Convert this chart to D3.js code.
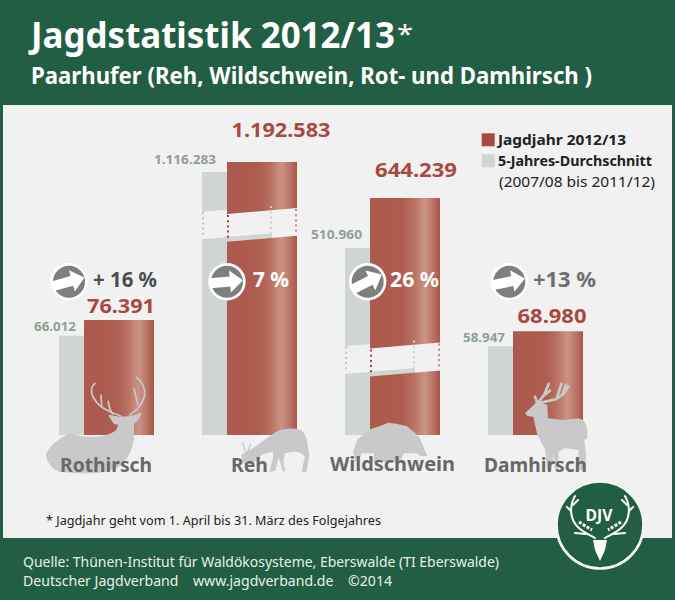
<!DOCTYPE html>
<html><head><meta charset="utf-8">
<script src="https://cdn.jsdelivr.net/npm/d3@7"></script>
<style>html,body{margin:0;padding:0;background:#225e43}svg{display:block}text{font-family:"Noto Sans",sans-serif}</style>
</head><body><svg id="c" width="675" height="600"></svg>
<script>
const categories = ["Rothirsch","Reh","Wildschwein","Damhirsch"];
const currentValues = [76391,1192583,644239,68980];
const averageValues = [66012,1116283,510960,58947];
const changePercent = [16,7,26,13];
const legendLabels = ["Jagdjahr 2012/13","5-Jahres-Durchschnitt","(2007/08 bis 2011/12)"];
// value ranges left out of the broken bars
const breakLow = [null,300000,100000,null];
const breakHigh = [null,1000000,400000,null];

const GREEN="#225e43",PANEL="#f1f1f1",RED="#a8483f",GREY="#cfd6d2",SIL="#c9c9c9";
const svg=d3.select("#c");
const fmt=d3.formatLocale({decimal:",",thousands:".",grouping:[3],currency:["","€"]}).format(",d");
const defs=svg.append("defs");
const g=defs.append("linearGradient").attr("id","bar");
[[0,"#ad5a4e"],[.45,"#ae5c50"],[.62,"#b96f61"],[.78,"#cb9485"],[.88,"#bc7a6c"],[1,"#ab5548"]]
  .forEach(([o,c])=>g.append("stop").attr("offset",o).attr("stop-color",c));

function txt(p,s,x,y,size,weight,fill,w,anchor){
  const t=p.append("text").attr("x",x).attr("y",y).attr("font-size",size).attr("font-weight",weight)
    .attr("fill",fill).attr("text-anchor",anchor||"start").text(s);
  if(w) t.attr("textLength",w).attr("lengthAdjust","spacingAndGlyphs");
  return t;
}
svg.append("rect").attr("width",675).attr("height",600).attr("fill",GREEN);
svg.append("rect").attr("x",3).attr("y",105).attr("width",669).attr("height",433).attr("fill",PANEL);

txt(svg,"Jagdstatistik 2012/13",31,47.5,35,700,"#fff",364);
txt(svg,"*",397,43,26,400,"#fff",16);
txt(svg,"Paarhufer (Reh, Wildschwein, Rot- und Damhirsch )",31,84,23,700,"#fff",561);

const BASE=435,BW=70,RO=25;
const x=d3.scalePoint().domain(categories).range([59,488]);
const smallScale=d3.scaleLinear().domain([0,76391]).range([BASE,320]);
const yScales=categories.map((c,i)=>{
  if(breakLow[i]===null) return smallScale;
  const rng = i===1 ? [BASE,238.7,211,172,162] : [BASE,373.5,345.5,248,198];
  return d3.scaleLinear().domain([0,breakLow[i],breakHigh[i],averageValues[i],currentValues[i]]).range(rng);
});
const slope=3; // half the rise of a slanted cut across one bar
const line=d3.line();
function barPath(x0,top,cutTop,cutBot){
  const a=[[x0,top],[x0+BW,top]];
  if(cutTop==null) return line([...a,[x0+BW,BASE],[x0,BASE]])+"Z";
  return line([...a,[x0+BW,cutTop-slope],[x0,cutTop+slope]])+"Z"+
         line([[x0,cutBot+slope],[x0+BW,cutBot-slope],[x0+BW,BASE],[x0,BASE]])+"Z";
}
const bars=svg.append("g");
categories.forEach((c,i)=>{
  const y=yScales[i],x0=x(c),hasBreak=breakLow[i]!==null;
  const cT=hasBreak?y(breakHigh[i]):null,cB=hasBreak?y(breakLow[i]):null;
  bars.append("path").attr("fill",GREY).attr("d",barPath(x0,y(averageValues[i]),hasBreak?cT-2.2:null,hasBreak?cB-2.5:null));
  bars.append("path").attr("fill","url(#bar)").attr("d",barPath(x0+RO,y(currentValues[i]),cT,cB));
  if(hasBreak){
    const dots=(xx,a,b,col)=>bars.append("line").attr("x1",xx).attr("x2",xx).attr("y1",a).attr("y2",b)
      .attr("stroke",col).attr("stroke-width",2).attr("stroke-dasharray","2 3.2");
    dots(x0+1,cT+1,cB-1,"#c2c9c4");
    dots(x0+BW-1,cT-5,cB-6,"#c9d0cb");
    dots(x0+RO+1,cT+4,cB+1,"#a0453b");
    dots(x0+RO+BW-1,cT-2,cB-4,"#c08a7e");
  }
});

// silhouettes (drawn in 3x local coordinates)
const sil=svg.append("g");
function shape(tx,ty,body,strokes,sw){
  const s=sil.append("g").attr("transform",`translate(${tx},${ty}) scale(${1/3})`);
  s.append("path").attr("d",body).attr("fill",SIL);
  if(strokes) s.append("path").attr("d",strokes).attr("fill","none").attr("stroke",SIL).attr("stroke-width",sw).attr("stroke-linecap","round");
}
shape(0,340,"M138 345C145 320 170 300 210 280C225 285 240 292 260 290C300 292 330 288 350 268L355 255L342 252L328 232L326 224L358 230L392 228L425 218L418 236L402 252L402 295C398 330 385 360 350 385C320 398 280 402 240 400L180 396C160 390 142 372 138 345Z",
 "M362 228C330 215 300 205 285 180C270 160 272 140 285 130M305 200L303 165M338 222C330 210 326 200 325 184M388 226C410 210 428 195 434 165C436 145 425 125 410 112M413 195C410 175 405 160 402 146",5);
shape(0,340,"M724 345L745 330C770 322 790 300 815 285C835 268 870 262 895 268C912 272 920 290 924 320L928 345L920 395L905 396L914 350C905 338 895 335 880 335L855 340L850 365L856 395L848 392L836 352L826 392L808 396L820 350L818 335L790 342L755 372L735 375C728 365 725 355 724 345Z",
 "M735 332L728 308M745 328L752 312",4);
shape(320,400,"M100 155L112 118L125 108L150 88L180 78L205 68L232 72L260 78L285 98L300 115L310 140L322 168L300 168L290 160L252 160L240 185L160 185L163 160L125 160L115 185L104 185Z");
shape(450,370,"M225 130L250 106L258 97L275 98L292 105L294 145L340 150L385 145C400 148 410 160 412 180L412 205L403 210L408 255L405 300L388 300L385 240L345 235L326 245L325 300L315 300L311 250L305 300L292 300L285 238L262 195L250 140L232 138Z",
 "M262 100L255 80M265 97L282 75L296 42M282 76L300 62M272 98L318 88L340 72L355 50M320 86L334 42M338 72L348 44",8);

// category labels
const catX=[60,231,330,484],catW=[92,37,125,103];
categories.forEach((c,i)=>txt(svg,c,catX[i],i===2?471:472,20,700,"#686868",catW[i]));

// value labels
const redOffset=[2,19,11,4],redLift=[7,25,21,8],redW=[68,99,82,69];
const avgLift=[5,8,9,4.5],avgW=[42,62,51,42];
categories.forEach((c,i)=>{
  const y=yScales[i],cx=x(c)+RO+BW/2+redOffset[i];
  txt(svg,fmt(currentValues[i]),cx,y(currentValues[i])-redLift[i],19.5,700,RED,redW[i],"middle");
  txt(svg,fmt(averageValues[i]),x(c)+17+(i===1?-3:0),y(averageValues[i])-avgLift[i],13,700,"#8f9f94",avgW[i],"end");
});

// change badges
const rot=d3.scaleLinear().domain([7,26]).range([-5,-27]);
const badgeX=[69,227,367.7,509.3],pctX=[93,253,390,533],pctW=[64,36,49,63],BY=281.7;
const pctCol=["#4c4c4c","#fff","#fff","#6e6e6e"];
categories.forEach((c,i)=>{
  const b=svg.append("g").attr("transform",`translate(${badgeX[i]},${BY})`);
  b.append("circle").attr("r",18.7).attr("fill","#fff");
  b.append("circle").attr("r",16).attr("fill","#7f7f7f");
  const a=rot(changePercent[i]);
  b.append("path").attr("transform",`rotate(${a})`).attr("fill","#fff")
   .attr("d",line([[-17,-5],[3,-5],[3,-11],[16,0],[3,11],[3,5],[-17,5]])+"Z");
  const s=(i===0||i===3?(i===0?"+ ":"+"):"")+changePercent[i]+" %";
  txt(svg,s,pctX[i],BY+5,21,700,pctCol[i],pctW[i]);
});

// legend
const leg=svg.append("g");
leg.append("rect").attr("x",481.7).attr("y",133.3).attr("width",13).attr("height",13).attr("fill","#a9493f");
leg.append("rect").attr("x",481.7).attr("y",154.3).attr("width",13).attr("height",13).attr("fill",GREY);
txt(leg,legendLabels[0],498,145,15,700,"#222",128);
txt(leg,legendLabels[1],498,166,15,700,"#222",154);
txt(leg,legendLabels[2],499,187,14.5,400,"#222",156);

// footnote and source
txt(svg,"* Jagdjahr geht vom 1. April bis 31. März des Folgejahres",46,525,13,400,"#222",335);
txt(svg,"Quelle: Thünen-Institut für Waldökosysteme, Eberswalde (TI Eberswalde)",23,567,15,400,"#e6f0ea",476);
txt(svg,"Deutscher Jagdverband    www.jagdverband.de    ©2014",23,586,15,400,"#e6f0ea",369).style("white-space","pre");

// logo
const lg=svg.append("g").attr("transform","translate(600,525)");
lg.append("circle").attr("r",43.5).attr("fill",GREEN).attr("stroke","#f5f5f5").attr("stroke-width",2.6);
txt(lg,"DJV",-1,-4,16,700,"#fff",27,"middle");
lg.append("path").attr("fill","#fff").attr("d","M-7 15L7 15L5 25L0 36L-5 25Z");
lg.append("path").attr("fill","none").attr("stroke","#fff").attr("stroke-width",2).attr("stroke-linecap","round")
 .attr("d","M-5 13C-12 9 -25 4 -28 -8C-30 -16 -29 -22 -25 -29M-29 -14L-33 -18M-27 -20L-22 -25M-14 9L-25 8M5 13C12 9 25 4 28 -8C30 -16 29 -22 25 -29M29 -14L33 -18M27 -20L22 -25M14 9L25 8");
lg.append("path").attr("fill","none").attr("stroke","#fff").attr("stroke-width",3).attr("stroke-dasharray","3 1.5")
 .attr("d","M-21 -3L-8 5M21 -3L8 5");
</script></body></html>
